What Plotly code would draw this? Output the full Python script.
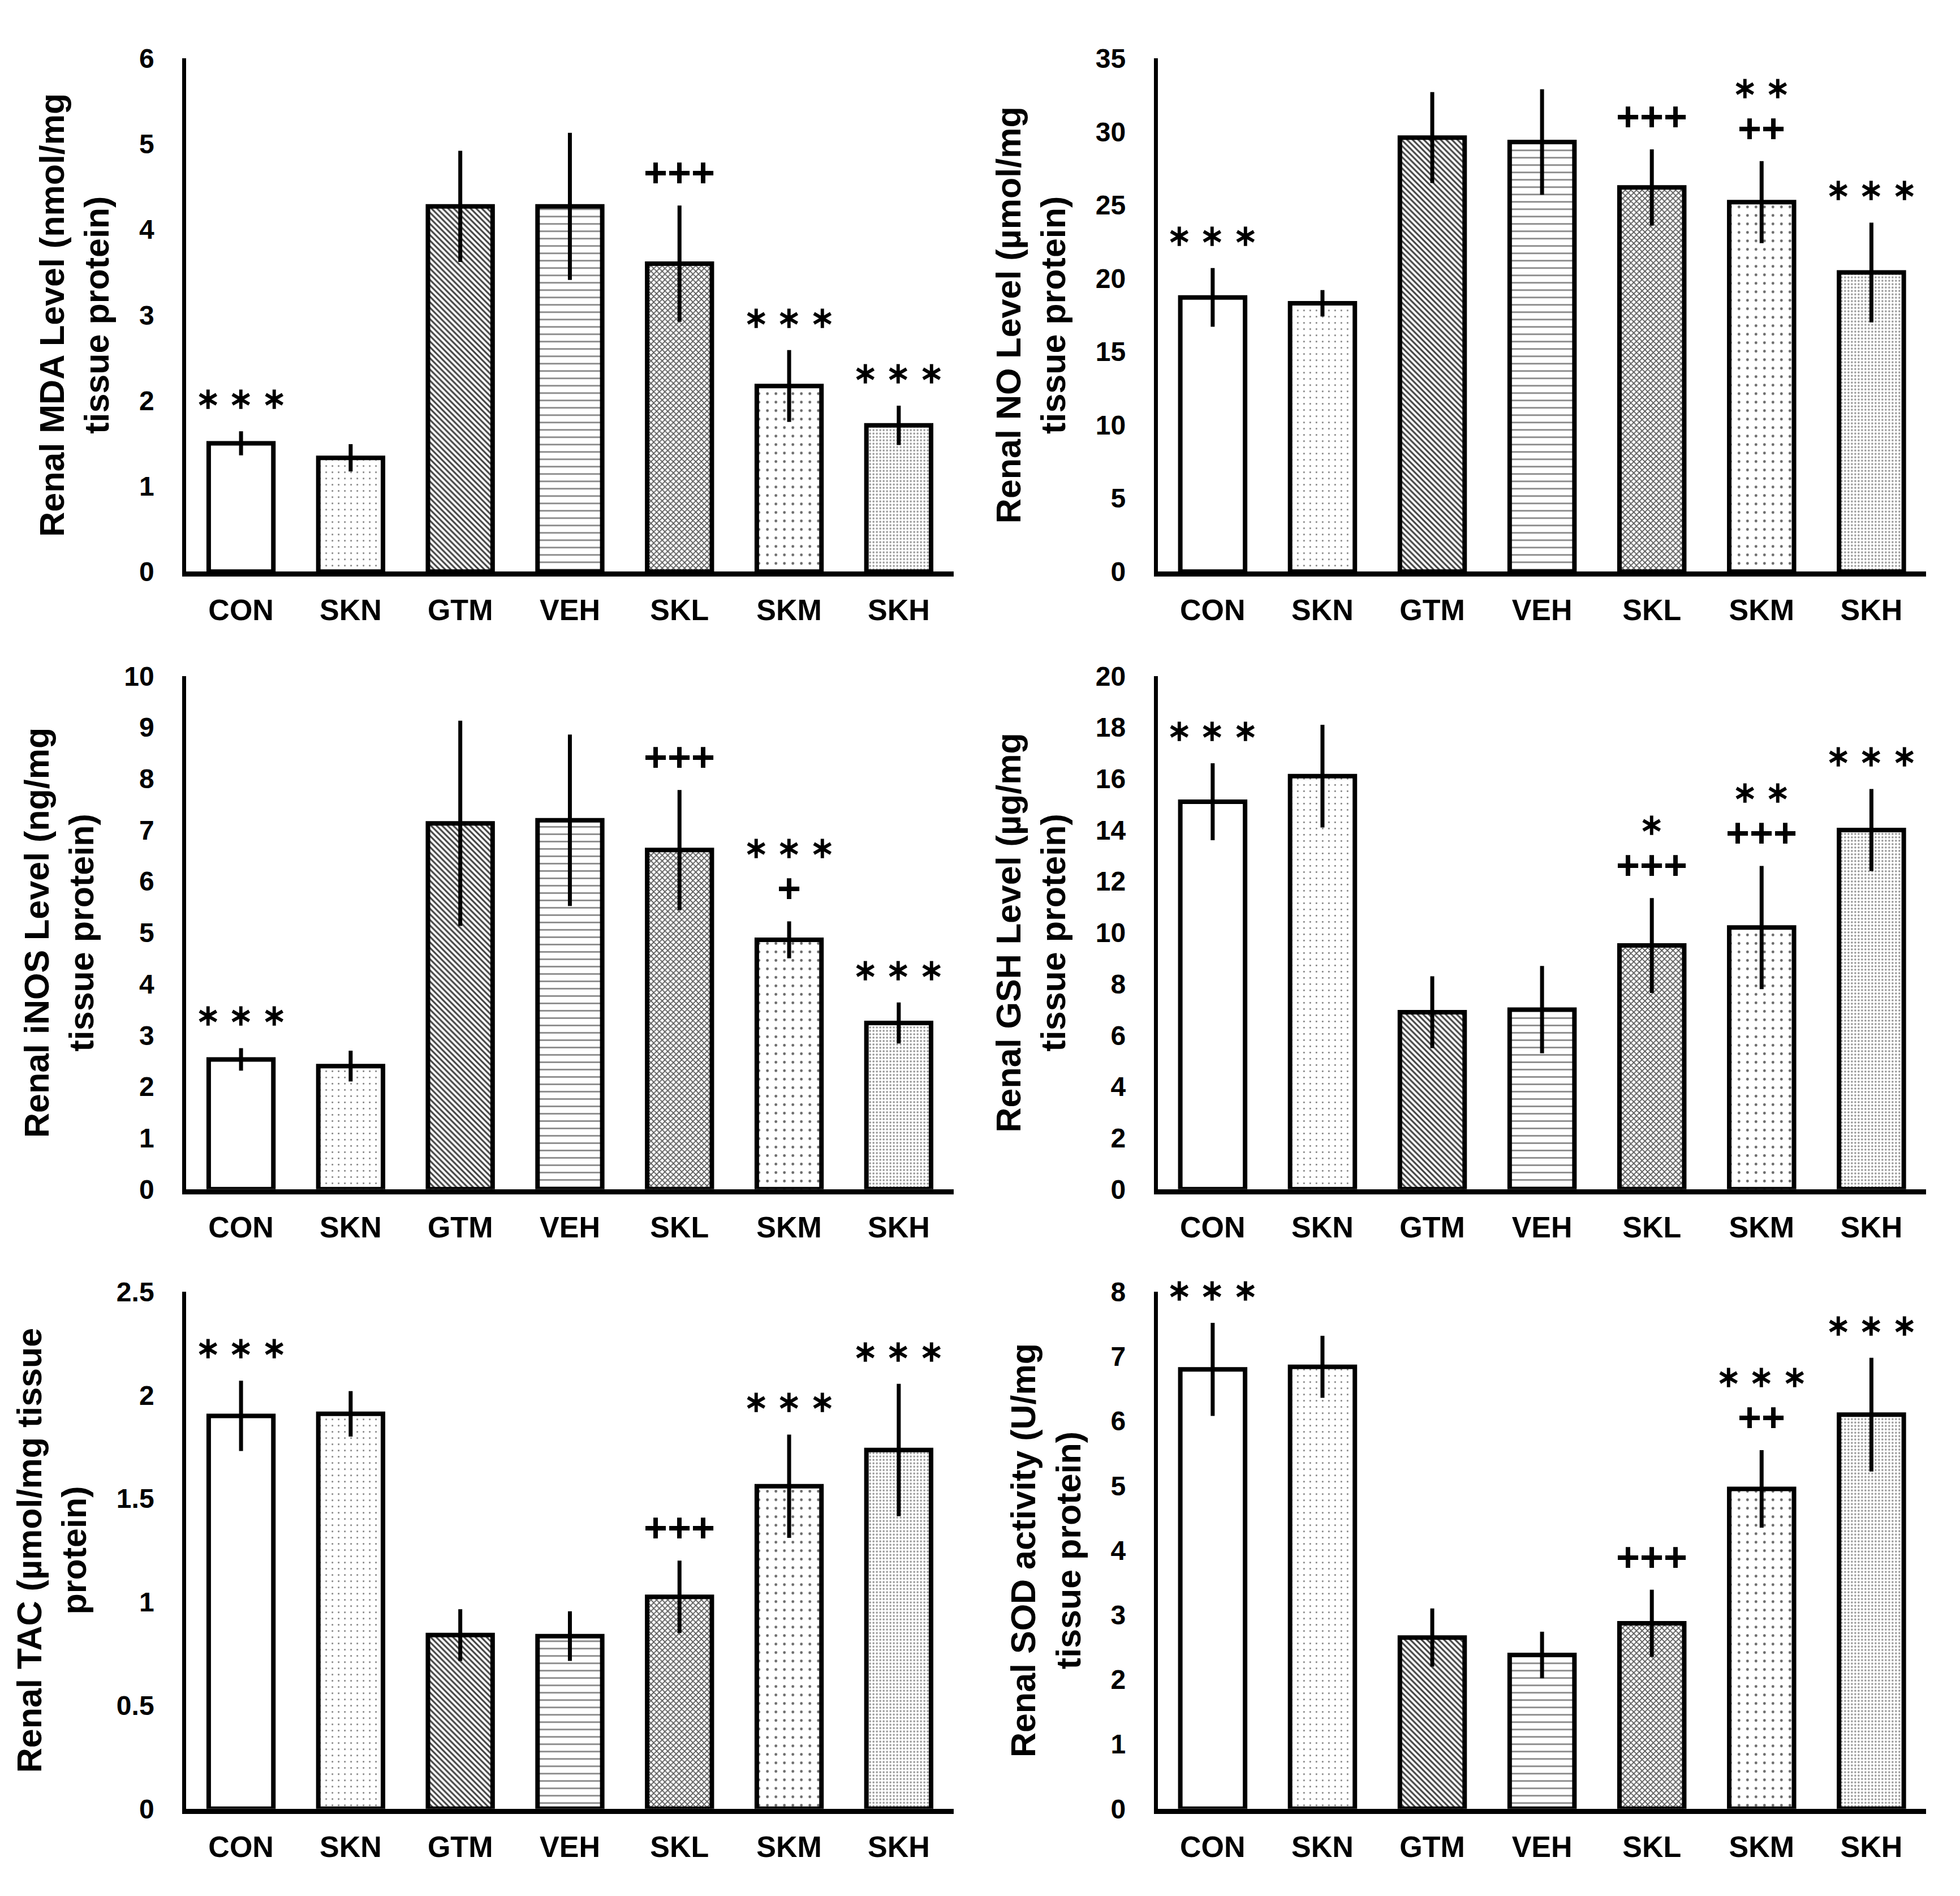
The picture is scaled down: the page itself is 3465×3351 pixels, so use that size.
# renal_markers.py — six-panel bar chart of renal oxidative-stress markers per treatment group
# (mean ± SD, hatched bars, significance marks), drawn with plotly and written to out.html.

import plotly.graph_objects as go
from plotly.subplots import make_subplots

GROUPS = ['CON', 'SKN', 'GTM', 'VEH', 'SKL', 'SKM', 'SKH']

MDA_MEAN = [1.50, 1.33, 4.27, 4.27, 3.60, 2.17, 1.71]
MDA_SD = [0.14, 0.16, 0.65, 0.86, 0.68, 0.42, 0.23]
MDA_STARS = [3, 0, 0, 0, 0, 3, 3]
MDA_PLUSES = [0, 0, 0, 0, 3, 0, 0]

NO_MEAN = [18.7, 18.3, 29.6, 29.3, 26.2, 25.2, 20.4]
NO_SD = [2.0, 0.9, 3.1, 3.6, 2.6, 2.8, 3.4]
NO_STARS = [3, 0, 0, 0, 0, 2, 3]
NO_PLUSES = [0, 0, 0, 0, 3, 2, 0]

INOS_MEAN = [2.53, 2.40, 7.13, 7.19, 6.61, 4.86, 3.24]
INOS_SD = [0.22, 0.30, 2.00, 1.67, 1.17, 0.36, 0.40]
INOS_STARS = [3, 0, 0, 0, 0, 3, 3]
INOS_PLUSES = [0, 0, 0, 0, 3, 1, 0]

GSH_MEAN = [15.1, 16.1, 6.9, 7.0, 9.5, 10.2, 14.0]
GSH_SD = [1.5, 2.0, 1.4, 1.7, 1.85, 2.4, 1.6]
GSH_STARS = [3, 0, 0, 0, 1, 2, 3]
GSH_PLUSES = [0, 0, 0, 0, 3, 3, 0]

TAC_MEAN = [1.90, 1.91, 0.84, 0.835, 1.025, 1.56, 1.735]
TAC_SD = [0.17, 0.11, 0.125, 0.12, 0.175, 0.25, 0.32]
TAC_STARS = [3, 0, 0, 0, 0, 3, 3]
TAC_PLUSES = [0, 0, 0, 0, 3, 0, 0]

SOD_MEAN = [6.80, 6.84, 2.65, 2.38, 2.87, 4.95, 6.10]
SOD_SD = [0.72, 0.48, 0.45, 0.36, 0.52, 0.60, 0.88]
SOD_STARS = [3, 0, 0, 0, 0, 3, 3]
SOD_PLUSES = [0, 0, 0, 0, 3, 2, 0]

# (title, mean, sd, stars, pluses, y max, y step) in reading order
PANELS = [
    ('Renal MDA Level (nmol/mg<br>tissue protein)', MDA_MEAN, MDA_SD, MDA_STARS, MDA_PLUSES, 6, 1),
    ('Renal NO Level (µmol/mg<br>tissue protein)', NO_MEAN, NO_SD, NO_STARS, NO_PLUSES, 35, 5),
    ('Renal iNOS Level (ng/mg<br>tissue protein)', INOS_MEAN, INOS_SD, INOS_STARS, INOS_PLUSES, 10, 1),
    ('Renal GSH Level (µg/mg<br>tissue protein)', GSH_MEAN, GSH_SD, GSH_STARS, GSH_PLUSES, 20, 2),
    ('Renal TAC (µmol/mg tissue<br>protein)', TAC_MEAN, TAC_SD, TAC_STARS, TAC_PLUSES, 2.5, 0.5),
    ('Renal SOD activity (U/mg<br>tissue protein)', SOD_MEAN, SOD_SD, SOD_STARS, SOD_PLUSES, 8, 1),
]

# one hatch per group, the same in every panel
HATCH_SHAPE = ['', '.', '\\', '-', 'x', '.', '.']
HATCH_SIZE = [8, 11, 7, 13, 7, 15, 6]
HATCH_SOLIDITY = [0.1, 0.05, 0.45, 0.2, 0.42, 0.08, 0.25]
HATCH_COLOR = ['#ffffff', '#6f6f6f', '#444444', '#808080', '#555555', '#666666', '#8a8a8a']

WIDTH, HEIGHT = 3465, 3351
COL_DOMAINS = [(0.0927, 0.4842), (0.5884, 0.9805)]
ROW_DOMAINS = [(0.704, 0.979), (0.373, 0.648), (0.041, 0.318)]

FONT = 'Liberation Sans, Arial, sans-serif'
MARK_SHIFT, MARK_STEP = 58, 72  # px above the error bar, px between stacked marks


def bold_font(size):
    return dict(family=FONT, size=size, color='black', weight='bold')


def marks(fig, row, col, mean, sd, stars, pluses):
    """Significance marks above each error bar: '+' next to the bar, '∗' above it."""
    for group, top, err, n_star, n_plus in zip(GROUPS, mean, sd, stars, pluses):
        shift = MARK_SHIFT
        if n_plus:
            fig.add_annotation(x=group, y=top + err, text='<b>%s</b>' % ('+' * n_plus),
                               showarrow=False, yanchor='middle', yshift=shift, row=row, col=col,
                               font=bold_font(72))
            shift += MARK_STEP
        if n_star:
            fig.add_annotation(x=group, y=top + err, text=' '.join('\u2217' * n_star),
                               showarrow=False, yanchor='middle', yshift=shift, row=row, col=col,
                               font=bold_font(52))


def build():
    fig = make_subplots(rows=3, cols=2)
    for index, (title, mean, sd, stars, pluses, top, step) in enumerate(PANELS):
        row, col = index // 2 + 1, index % 2 + 1
        fig.add_trace(go.Bar(
            x=GROUPS, y=mean, showlegend=False,
            error_y=dict(type='data', array=sd, visible=True, width=0, thickness=7, color='black'),
            marker=dict(color='white', line=dict(color='black', width=8),
                        pattern=dict(shape=HATCH_SHAPE, size=HATCH_SIZE, solidity=HATCH_SOLIDITY,
                                     fgcolor=HATCH_COLOR, bgcolor='white', fillmode='replace'))),
            row=row, col=col)
        fig.update_xaxes(domain=COL_DOMAINS[col - 1], showline=True, linecolor='black', linewidth=9,
                         showgrid=False, ticks='', ticklabelstandoff=14,
                         tickfont=bold_font(52), row=row, col=col)
        fig.update_yaxes(domain=ROW_DOMAINS[row - 1], range=[0, top], dtick=step, tick0=0,
                         showline=True, linecolor='black', linewidth=7, showgrid=False,
                         zeroline=False, ticks='', ticklabelstandoff=40,
                         tickfont=bold_font(48),
                         title=dict(text='<b>%s</b>' % title, standoff=36, font=bold_font(61)),
                         row=row, col=col)
        marks(fig, row, col, mean, sd, stars, pluses)
    fig.update_layout(width=WIDTH, height=HEIGHT, bargap=0.41, plot_bgcolor='white',
                      paper_bgcolor='white', margin=dict(l=0, r=0, t=0, b=0))
    return fig


if __name__ == '__main__':
    build().write_html('out.html')
